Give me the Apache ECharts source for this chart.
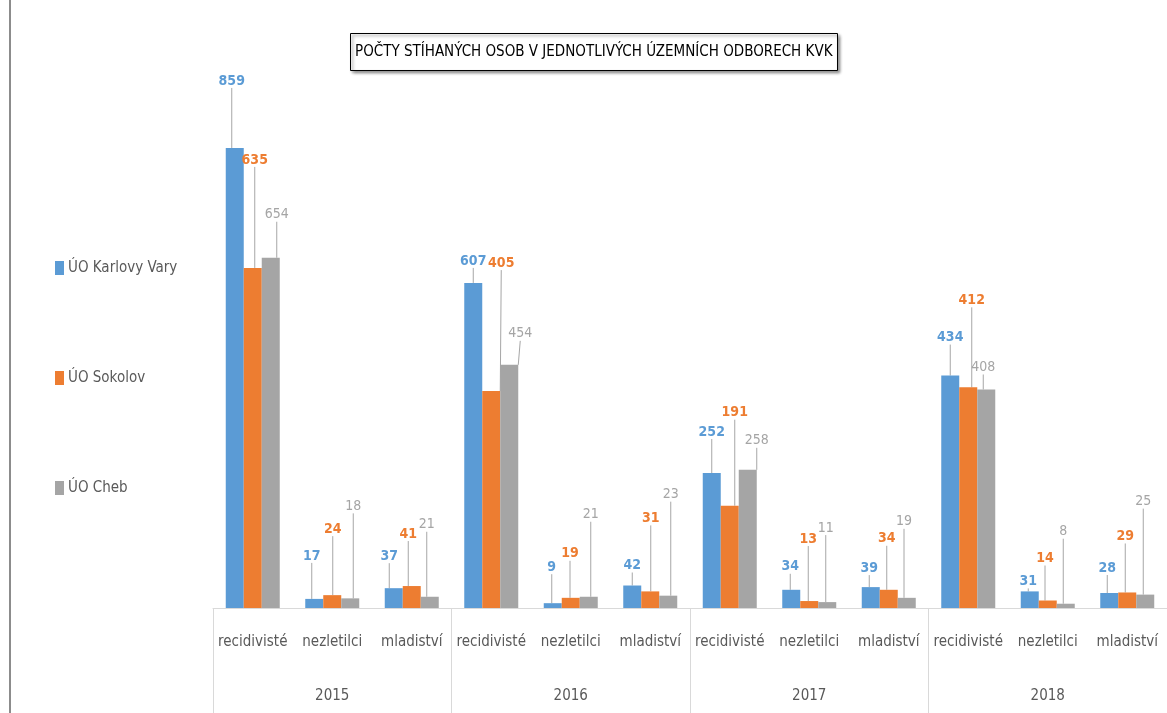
<!DOCTYPE html>
<html><head><meta charset="utf-8">
<script src="https://cdn.jsdelivr.net/npm/echarts@6/dist/echarts.min.js"></script>
<style>html,body{margin:0;padding:0;background:#fff}#c{width:1167px;height:713px}</style>
</head><body><div id="c"></div>
<script>
// ---- data ----
const years = ['2015', '2016', '2017', '2018'];
const groups = ['recidivisté', 'nezletilci', 'mladiství'];
const categories = [].concat(...years.map(() => groups));
const seriesNames = ['ÚO Karlovy Vary', 'ÚO Sokolov', 'ÚO Cheb'];
const karlovyVary = [859, 17, 37, 607, 9, 42, 252, 34, 39, 434, 31, 28];
const sokolov     = [635, 24, 41, 405, 19, 31, 191, 13, 34, 412, 14, 29];
const cheb        = [654, 18, 21, 454, 21, 23, 258, 11, 19, 408, 8, 25];

// ---- label placement (style: px above bar top, px horizontal shift) ----
const liftKV = [67, 43, 32, 22, 36, 20, 41, 23, 19, 38, 10, 25];
const shiftKV = [-3, -2.5, -4.5, 0, -1, 0, 0, -1, -1.5, 0, -1.5, -2];
const liftSO = [108, 66, 52, 128, 44, 73, 93, 62, 51, 87, 42, 56];
const shiftSO = [2, 0.5, -3.5, 10, -0.75, 0.5, 5, -1, -2, 3.5, -2.75, -2];
const liftCH = [43, 92, 72, 31, 82, 101, 29, 74, 76, 22, 72, 93];
const shiftCH = [6, 3, -3, 11, 2, 2.5, 9, -1.5, -2.75, -3, -2.5, -2];

const FONT = "'DejaVu Sans Condensed', 'Liberation Sans Narrow', sans-serif";
const colors = ['#5b9bd5', '#ed7d31', '#a5a5a5'];

function makeSeries(name, values, color, bold, lift, shift) {
  return {
    name: name,
    type: 'bar',
    data: values,
    barWidth: 18,
    barGap: '0%',
    itemStyle: { color: color },
    label: {
      show: true,
      position: 'top',
      color: color,
      fontFamily: FONT,
      fontSize: 14,
      fontWeight: bold ? 'bold' : 'normal'
    },
    labelLine: { show: true, lineStyle: { color: '#a6a6a6', width: 1 } },
    labelLayout: function (p) {
      const r = p.rect;
      return {
        x: r.x + r.width / 2 + shift[p.dataIndex],
        y: r.y - lift[p.dataIndex],
        align: 'center',
        verticalAlign: 'middle'
      };
    }
  };
}

const chart = echarts.init(document.getElementById('c'));
chart.setOption({
  animation: false,
  backgroundColor: '#fff',
  color: colors,
  title: {
    text: 'POČTY STÍHANÝCH OSOB V JEDNOTLIVÝCH ÚZEMNÍCH ODBORECH KVK',
    left: 350,
    top: 33,
    padding: [10, 5],
    borderColor: '#000',
    borderWidth: 1,
    backgroundColor: '#fff',
    shadowColor: 'rgba(0,0,0,0.45)',
    shadowBlur: 3,
    shadowOffsetX: 2,
    shadowOffsetY: 2,
    textStyle: { fontFamily: FONT, fontSize: 15, fontWeight: 'normal', color: '#000', lineHeight: 18 }
  },
  legend: {
    orient: 'vertical',
    left: 55,
    top: 258,
    padding: 0,
    itemGap: 90,
    itemWidth: 9,
    itemHeight: 14,
    icon: 'rect',
    data: seriesNames,
    textStyle: { fontFamily: FONT, fontSize: 15, color: '#595959', lineHeight: 20, padding: [0, 0, 0, -1] }
  },
  grid: { left: 213, right: 0, top: 126, bottom: 105, containLabel: false },
  xAxis: [
    {
      type: 'category',
      position: 'bottom',
      data: categories,
      axisLine: { show: true, lineStyle: { color: '#d9d9d9', width: 1 } },
      axisTick: { show: false },
      axisLabel: { interval: 0, margin: 27, fontFamily: FONT, fontSize: 15, color: '#595959' }
    },
    {
      type: 'category',
      position: 'bottom',
      data: years,
      axisLine: { show: false },
      axisTick: { show: true, length: 105, interval: 0, lineStyle: { color: '#d9d9d9', width: 1 } },
      axisLabel: { interval: 0, margin: 81, fontFamily: FONT, fontSize: 15, color: '#595959' }
    }
  ],
  yAxis: { type: 'value', min: 0, max: 900, show: false, splitLine: { show: false } },
  graphic: [
    { type: 'line', shape: { x1: 10, y1: 0, x2: 10, y2: 713 }, style: { stroke: '#8c8c8c', lineWidth: 2 } }
  ],
  series: [
    makeSeries(seriesNames[0], karlovyVary, colors[0], true, liftKV, shiftKV),
    makeSeries(seriesNames[1], sokolov, colors[1], true, liftSO, shiftSO),
    makeSeries(seriesNames[2], cheb, colors[2], false, liftCH, shiftCH)
  ]
});
</script>
</body></html>
